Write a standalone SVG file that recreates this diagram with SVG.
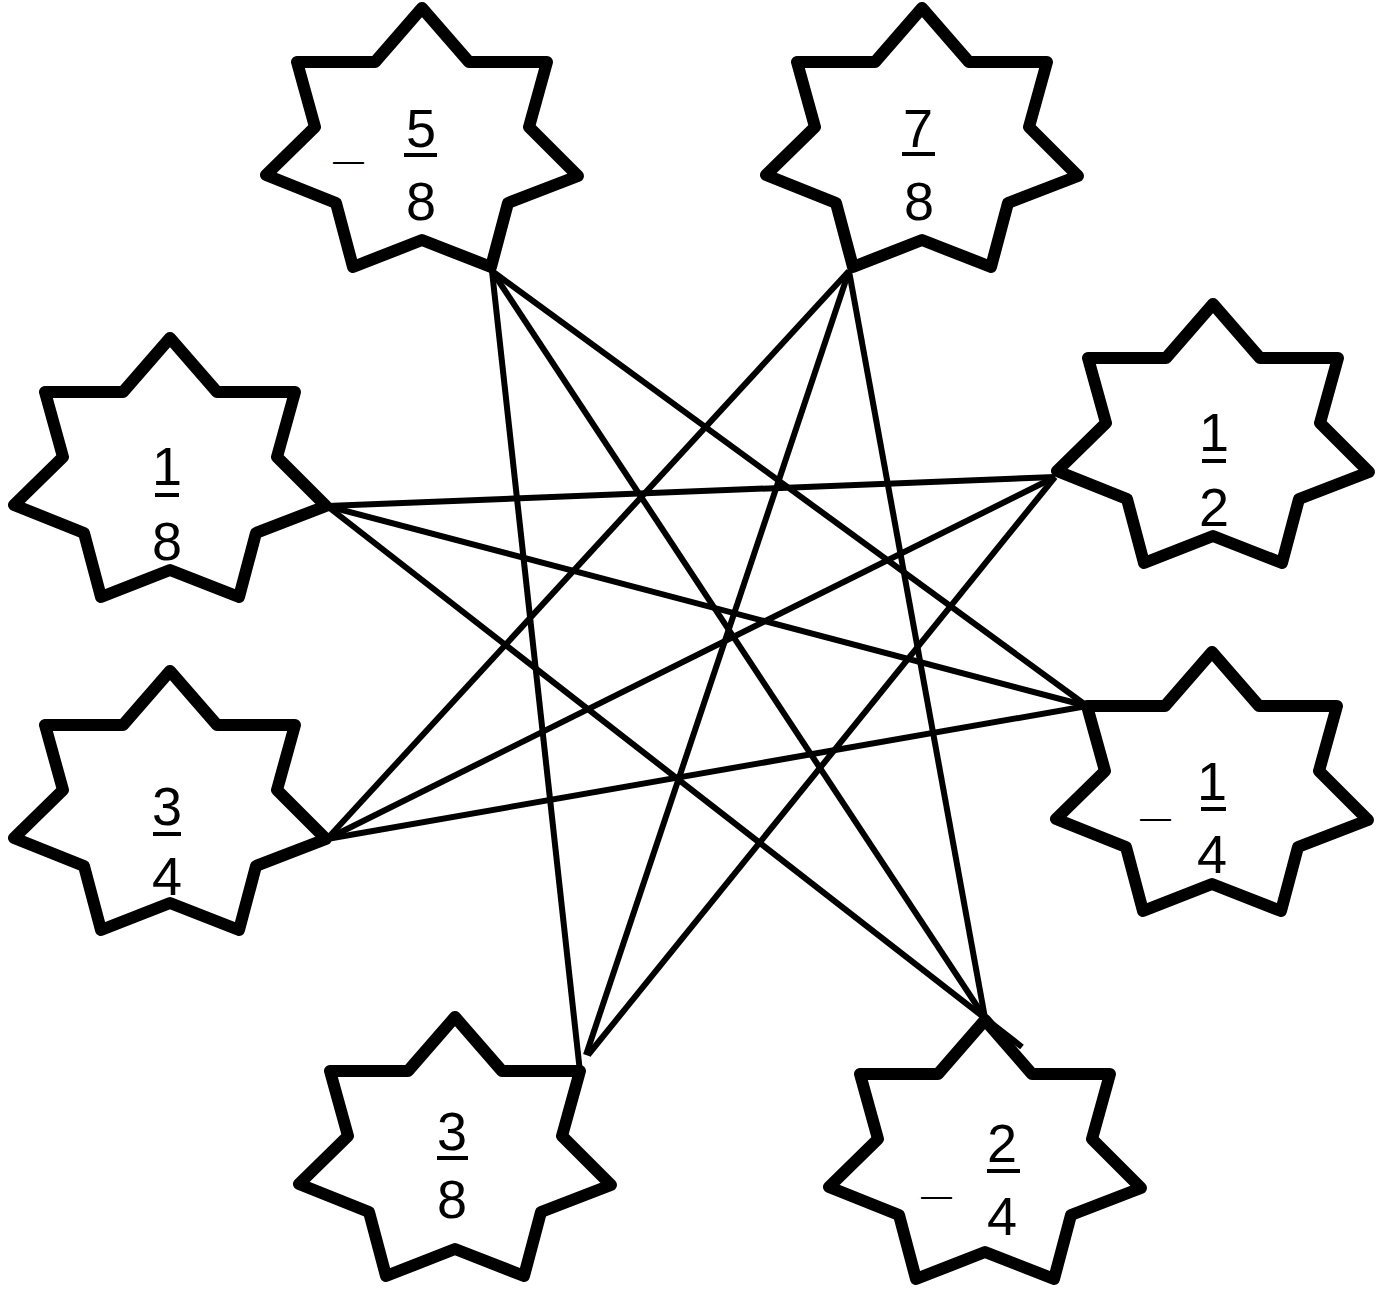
<svg xmlns="http://www.w3.org/2000/svg" xmlns:xlink="http://www.w3.org/1999/xlink" width="1382" height="1289" viewBox="0 0 1382 1289">
<style>
.star{fill:#fff;stroke:#000;stroke-width:12;stroke-linejoin:round}
.num{font-family:"Liberation Sans",Arial,sans-serif;font-size:54px;fill:#000;text-anchor:middle}
.minus{font-family:"Liberation Sans",Arial,sans-serif;font-size:31px;fill:#000}
.bar{stroke:#000;stroke-width:4}
.conn line{stroke:#000;stroke-width:6}
</style>
<defs>
<path id="star" class="star" d="M0,0 L47,54 L125,54 L107,119 L156,168 L86,195 L69,259 L0,232 L-69,259 L-86,195 L-156,167 L-107,119 L-125,54 L-47,54 Z"/>
</defs>
<rect width="1382" height="1289" fill="#fff"/>
<g id="n-5-8">
<use xlink:href="#star" href="#star" transform="translate(422,8)"/>
<text class="minus" x="333" y="171">—</text>
<text class="num" x="421" y="147">5</text>
<line class="bar" x1="404" y1="155" x2="437" y2="155"/>
<text class="num" x="421" y="220">8</text>
</g>
<g id="n-7-8">
<use xlink:href="#star" href="#star" transform="translate(922,8)"/>
<text class="num" x="918" y="147">7</text>
<line class="bar" x1="902" y1="154" x2="935" y2="154"/>
<text class="num" x="919" y="220">8</text>
</g>
<g id="n-1-8">
<use xlink:href="#star" href="#star" transform="translate(170,338)"/>
<text class="num" x="167" y="485">1</text>
<line class="bar" x1="155" y1="495" x2="179" y2="495"/>
<text class="num" x="167" y="560">8</text>
</g>
<g id="n-1-2">
<use xlink:href="#star" href="#star" transform="translate(1213,304)"/>
<text class="num" x="1214" y="451">1</text>
<line class="bar" x1="1202" y1="461" x2="1226" y2="461"/>
<text class="num" x="1214" y="526">2</text>
</g>
<g id="n-3-4">
<use xlink:href="#star" href="#star" transform="translate(170,671)"/>
<text class="num" x="167" y="825">3</text>
<line class="bar" x1="153" y1="834" x2="181" y2="834"/>
<text class="num" x="167" y="895">4</text>
</g>
<g id="n-m1-4">
<use xlink:href="#star" href="#star" transform="translate(1212,652)"/>
<text class="minus" x="1140" y="828">—</text>
<text class="num" x="1212" y="800">1</text>
<line class="bar" x1="1201" y1="809" x2="1226" y2="809"/>
<text class="num" x="1212" y="873">4</text>
</g>
<g id="n-3-8">
<use xlink:href="#star" href="#star" transform="translate(455,1017)"/>
<text class="num" x="452" y="1150">3</text>
<line class="bar" x1="437" y1="1158" x2="468" y2="1158"/>
<text class="num" x="452" y="1218">8</text>
</g>
<g id="n-m2-4">
<use xlink:href="#star" href="#star" transform="translate(985,1020)"/>
<text class="minus" x="921" y="1206">—</text>
<text class="num" x="1002" y="1162">2</text>
<line class="bar" x1="987" y1="1171" x2="1020" y2="1171"/>
<text class="num" x="1002" y="1235">4</text>
</g>
<g id="connectors" class="conn">
<line x1="492" y1="271" x2="580" y2="1072"/>
<line x1="492" y1="271" x2="985" y2="1018"/>
<line x1="492" y1="271" x2="1087" y2="706"/>
<line x1="849" y1="271" x2="327" y2="839"/>
<line x1="849" y1="271" x2="586" y2="1055"/>
<line x1="849" y1="271" x2="985" y2="1018"/>
<line x1="327" y1="506" x2="1055" y2="477"/>
<line x1="327" y1="506" x2="1087" y2="706"/>
<line x1="327" y1="506" x2="1022" y2="1047"/>
<line x1="327" y1="839" x2="1055" y2="477"/>
<line x1="327" y1="839" x2="1087" y2="706"/>
<line x1="1055" y1="477" x2="588" y2="1055"/>
</g>
</svg>
